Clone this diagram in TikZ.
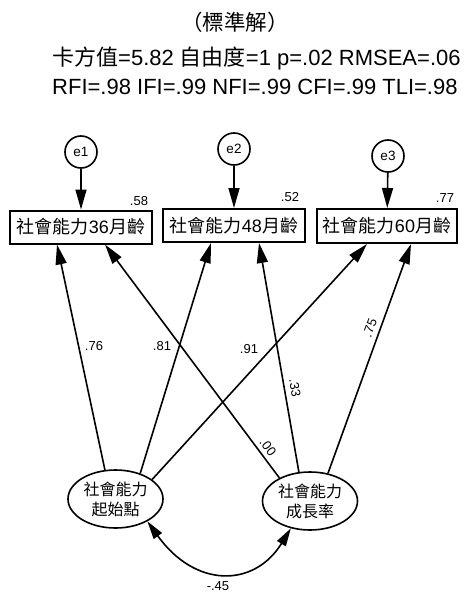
\documentclass[tikz,border=0pt]{standalone}
\usepackage{fontspec}
\setmainfont{Liberation Sans}
\newfontfamily\cjk{Noto Sans CJK TC}
\usetikzlibrary{arrows.meta,shapes.geometric}
\begin{document}
\begin{tikzpicture}[x=1pt,y=-1pt,
  arr/.style={line width=1.6pt,-{Triangle[length=20pt,width=11pt]}},
  cov/.style={line width=1.6pt,{Triangle[length=18pt,width=10pt]}-{Triangle[length=18pt,width=10pt]}},
  obs/.style={draw,line width=2pt,minimum width=142pt,minimum height=33pt,inner sep=0pt,font=\fontsize{18}{20}\selectfont},
  lat/.style={draw,ellipse,line width=1.6pt,minimum width=95pt,minimum height=58pt,inner sep=0pt,align=center,font=\fontsize{16}{20}\selectfont\cjk},
  err/.style={draw,circle,line width=1.6pt,minimum size=32pt,inner sep=0pt,font=\fontsize{13.5}{14}\selectfont},
  coef/.style={inner sep=0pt,font=\fontsize{13}{14}\selectfont},
  hdr/.style={inner sep=0pt,font=\fontsize{22}{24}\selectfont},
]
\useasboundingbox (0,0) rectangle (466,594);
\fill[white] (0,0) rectangle (466,594);

% header
\node[inner sep=0pt,font=\fontsize{21.5}{22}\selectfont\cjk] (title) at (235,22.5) {（標準解）};
\node[hdr,anchor=base west] (fit1) at (52,66) {{\cjk 卡方值}=5.82 {\cjk 自由度}=1 p=.02 RMSEA=.06};
\node[hdr,anchor=base west] (fit2) at (52,94) {RFI=.98 IFI=.99 NFI=.99 CFI=.99 TLI=.98};

% error terms
\node[err] (e1) at (81,152) {e1};
\node[err] (e2) at (234,149) {e2};
\node[err] (e3) at (388,156) {e3};

% observed variables
\node[obs] (b1) at (81,227) {{\cjk 社會能力}36{\cjk 月齡}};
\node[obs] (b2) at (234,225.5) {{\cjk 社會能力}48{\cjk 月齡}};
\node[obs,minimum width=140pt,minimum height=34pt] (b3) at (387,226) {{\cjk 社會能力}60{\cjk 月齡}};

% R squared
\node[coef] (r1) at (139,201) {.58};
\node[coef] (r2) at (290,197) {.52};
\node[coef] (r3) at (445,198) {.77};

% latent variables
\node[lat] (L) at (115.5,499) {社會能力\\起始點};
\node[lat] (R) at (310,501) {社會能力\\成長率};

% error arrows
\draw[arr] (e1) -- (b1);
\draw[arr] (e2) -- (b2);
\draw[arr] (e3) -- (b3);

% paths
\draw[arr] (L.110) -- ([xshift=-24pt]b1.south);
\draw[arr] (L.46) -- ([xshift=-23pt]b2.south);
\draw[arr] (L.28) -- ([xshift=-20pt]b3.south);
\draw[arr] (R.143) -- ([xshift=24pt]b1.south);
\draw[arr] (R.111) -- ([xshift=25pt]b2.south);
\draw[arr] (R.57) -- ([xshift=24pt]b3.south);

% path labels
\node[coef] (p1) at (94,346) {.76};
\node[coef] (p2) at (162,346) {.81};
\node[coef] (p3) at (249,349) {.91};
\node[coef,rotate=-53] (p4) at (268,447) {.00};
\node[coef,rotate=-80] (p5) at (295,388) {.33};
\node[coef,rotate=69.5] (p6) at (370,328) {.75};

% covariance
\coordinate (c1) at (195,588);
\coordinate (c2) at (254,588);
\draw[cov] (L.-35) .. controls (c1) and (c2) .. (R.-125);
\node[coef,anchor=base] (cv) at (218,590.5) {-.45};
\end{tikzpicture}
\end{document}
